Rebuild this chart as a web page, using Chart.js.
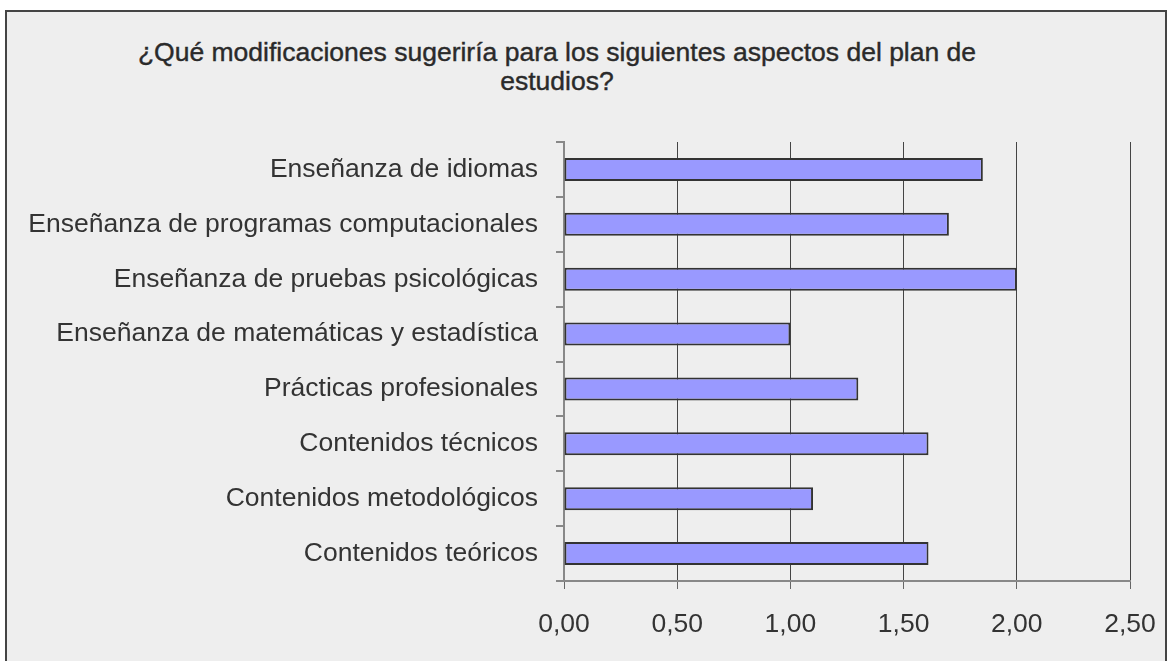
<!DOCTYPE html>
<html>
<head>
<meta charset="utf-8">
<script src="https://cdn.jsdelivr.net/npm/chart.js@4.4.0/dist/chart.umd.min.js"></script>
<style>
  body { margin: 0; background: #fff; font-family: "Liberation Sans", Arial, sans-serif; }
  #frame { position: absolute; left: 5px; top: 10px; width: 1158px; height: 660px; background: #eeeeee; border: 2px solid #444; }
  #title { position: absolute; left: 57px; width: 1000px; top: 38px; text-align: center; font-size: 26.5px; line-height: 29px; color: #2a2a2a; -webkit-text-stroke: 0.4px #2a2a2a; }
  #wrap { position: absolute; left: 0; top: 0; width: 1170px; height: 661px; }
</style>
</head>
<body>
<div id="frame"></div>
<div id="title">¿Qué modificaciones sugeriría para los siguientes aspectos del plan de<br>estudios?</div>
<div id="wrap"><canvas id="myChart"></canvas></div>
<script>
var categories = [
    'Enseñanza de idiomas',
    'Enseñanza de programas computacionales',
    'Enseñanza de pruebas psicológicas',
    'Enseñanza de matemáticas y estadística',
    'Prácticas profesionales',
    'Contenidos técnicos',
    'Contenidos metodológicos',
    'Contenidos teóricos'
];
var values = [1.85, 1.70, 2.00, 1.00, 1.30, 1.61, 1.10, 1.61];
var xMin = 0;
var xMax = 2.5;
var xStep = 0.5;

let ctx = document.getElementById('myChart').getContext('2d');

window.myChart = new Chart(ctx, {
    type: 'bar',
    data: {
        labels: categories,
        datasets: [{
            data: values,
            backgroundColor: '#9999ff',
            borderColor: '#333333',
            borderWidth: 2,
            borderSkipped: false,
            categoryPercentage: 1,
            barPercentage: 0.42
        }]
    },
    options: {
        indexAxis: 'y',
        responsive: true,
        maintainAspectRatio: false,
        animation: false,
        layout: {
            padding: { left: 0, top: 142, right: 40, bottom: 0 }
        },
        scales: {
            x: {
                min: xMin,
                max: xMax,
                ticks: {
                    stepSize: xStep,
                    color: '#333',
                    font: { family: 'Liberation Sans', size: 26.5 },
                    padding: 20,
                    callback: function (v) { return v.toFixed(2).replace('.', ','); }
                },
                grid: { color: '#444', lineWidth: 1, tickLength: 8, tickColor: '#666' },
                border: { color: '#888', width: 2 },
                afterFit: function (scale) {
                    scale.height = 80;
                    scale.paddingLeft = 0;
                    scale.paddingRight = 0;
                }
            },
            y: {
                ticks: {
                    color: '#333',
                    font: { family: 'Liberation Sans', size: 26.5 },
                    padding: 18
                },
                grid: { offset: true, drawOnChartArea: false, tickLength: 8, color: '#888', lineWidth: 2 },
                border: { color: '#888', width: 2 },
                afterFit: function (scale) { scale.width = 564; }
            }
        },
        plugins: {
            legend: { display: false },
            tooltip: { enabled: false }
        }
    }
});
</script>
</body>
</html>
